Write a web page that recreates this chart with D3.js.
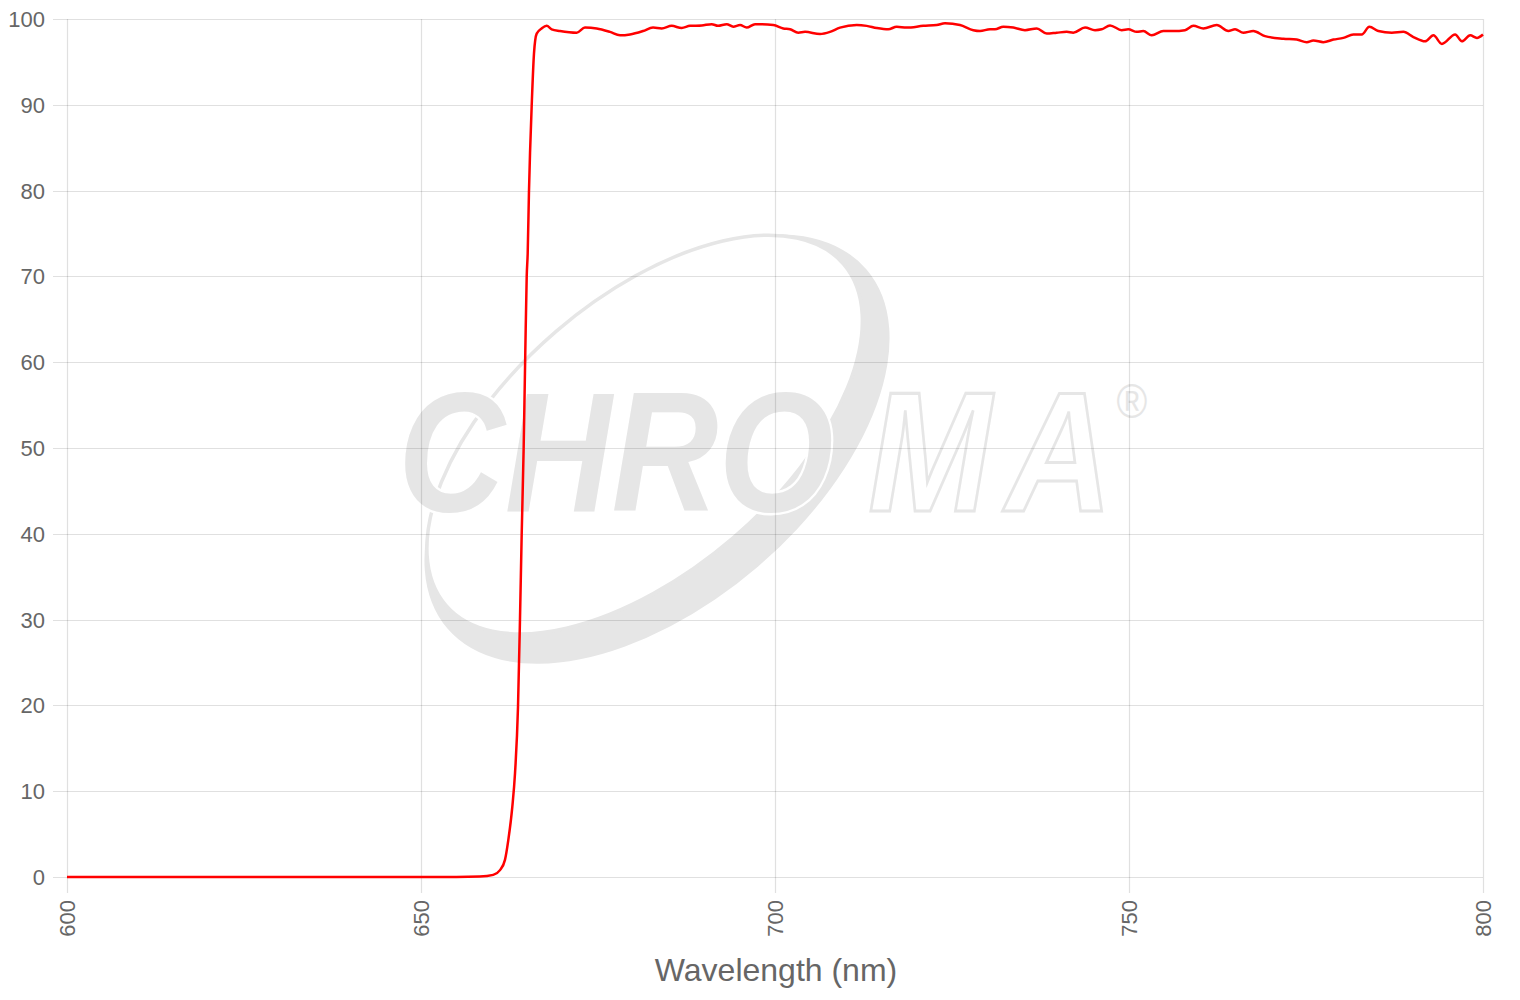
<!DOCTYPE html>
<html>
<head>
<meta charset="utf-8">
<script src="https://cdn.jsdelivr.net/npm/d3@7"></script>
<style>
  html, body { margin: 0; padding: 0; background: #fff; }
  svg { display: block; font-family: "Liberation Sans", Arial, Helvetica, sans-serif; }
</style>
</head>
<body>
<svg id="chart" width="1520" height="1000"></svg>
<script>
// ---- data ----
const wavelengths = [
  600, 630, 655, 658.3, 660.2, 661.16, 661.86, 662.33, 662.9, 663.28, 663.7, 663.98,
  664.22, 664.5, 664.73, 664.93, 665.07, 665.25, 665.4, 665.63, 665.96, 666.34, 667.05,
  667.75, 668.46, 669.63, 671.99, 673.16, 674.82, 676.69, 678.11, 679.52, 681.36, 682.77,
  684.0, 685.41, 686.82, 687.99, 689.65, 691.06, 691.95, 693.18, 694.11, 695.06, 696.0,
  697.18, 699.76, 701.17, 702.12, 703.29, 704.24, 706.36, 707.77, 709.18, 711.54, 712.95,
  714.37, 716.0, 717.19, 718.6, 720.95, 722.84, 724.01, 726.13, 728.01, 728.96, 730.37,
  731.07, 732.25, 733.66, 735.31, 736.97, 738.38, 739.79, 741.2, 742.13, 743.79, 745.2,
  746.14, 747.32, 748.97, 749.9, 751.09, 752.02, 753.21, 754.85, 756.26, 757.91, 759.09,
  760.5, 762.39, 764.03, 764.98, 766.15, 767.56, 769.21, 771.8, 773.69, 775.11, 776.04,
  777.45, 778.87, 780.28, 781.69, 782.88, 783.95, 785.22, 787.12, 788.76, 790.17, 791.82,
  793.0, 794.19, 796.07, 797.02, 798.19, 799.14, 800.0
];
const transmission = [
  0, 0, 0, 0.05, 0.25, 0.8, 2.0, 4.3, 8.2, 12.1, 19.8, 30.0,
  39.9, 50.0, 61.1, 70.0, 72.7, 79.9, 84.4, 89.8, 96.0, 98.3, 98.9,
  99.2, 98.8, 98.6, 98.4, 99.0, 98.9, 98.5, 98.1, 98.2, 98.6, 99.0,
  98.9, 99.2, 98.95, 99.2, 99.25, 99.4, 99.2, 99.4, 99.1, 99.3, 99.0,
  99.4, 99.3, 98.9, 98.8, 98.4, 98.5, 98.25, 98.5, 99.0, 99.3, 99.2,
  98.95, 98.8, 99.1, 99.0, 99.2, 99.3, 99.5, 99.3, 98.7, 98.6, 98.8,
  98.8, 99.1, 99.0, 98.7, 98.9, 98.3, 98.4, 98.5, 98.4, 99.0, 98.7,
  98.8, 99.25, 98.7, 98.8, 98.5, 98.6, 98.1, 98.6, 98.6, 98.7, 99.2,
  98.9, 99.3, 98.6, 98.8, 98.4, 98.6, 98.0, 97.7, 97.6, 97.3, 97.5,
  97.3, 97.6, 97.8, 98.2, 98.2, 99.1, 98.6, 98.4, 98.5, 97.9, 97.4,
  98.1, 97.1, 98.2, 97.4, 98.1, 97.8, 98.2
];
const xTicks = [600, 650, 700, 750, 800];
const yTicks = [0, 10, 20, 30, 40, 50, 60, 70, 80, 90, 100];
const xTitle = "Wavelength (nm)";
const logoFilled = "CHRO";
const logoOutlined = "MA";
const logoMark = "®";

(function () {
// ---- layout ----
const svg = d3.select("#chart");
const pLeft = 67, pRight = 1483, pTop = 19, pBottom = 877;
const x = d3.scaleLinear().domain([600, 800]).range([pLeft, pRight]);
const y = d3.scaleLinear().domain([0, 100]).range([pBottom, pTop]);
const gridColor = "rgba(0,0,0,0.12)";
const textColor = "#666";
const logoGray = "#e6e6e6";

// ---- watermark logo ----
const logo = svg.append("g").attr("class", "logo");
const cx = 657, cy = 449, rot = -40.6;
const eg = logo.append("g").attr("transform", `translate(${cx},${cy}) rotate(${rot})`);
function ellPath(rx, ry, dy) {
  return `M${-rx},${dy} A${rx},${ry} 0 1,0 ${rx},${dy} A${rx},${ry} 0 1,0 ${-rx},${dy} Z`;
}
eg.append("path")
  .attr("d", ellPath(276, 155, 0) + ellPath(262, 136, -19))
  .attr("fill", logoGray).attr("fill-rule", "evenodd");
eg.append("path").attr("d", ellPath(262, 136, -19))
  .attr("fill", "none").attr("stroke", logoGray).attr("stroke-width", 3.5);

const lt = logo.append("text")
  .attr("transform", "translate(398,511) scale(0.87,1)")
  .attr("font-size", 170).attr("font-weight", 700).attr("font-style", "italic");
lt.append("tspan")
  .attr("fill", logoGray).attr("stroke", "#fff").attr("stroke-width", 5)
  .attr("paint-order", "stroke")
  .text(logoFilled);
lt.append("tspan").attr("dx", "40 16")
  .attr("fill", "#fff").attr("stroke", logoGray).attr("stroke-width", 3)
  .text(logoOutlined);
lt.append("tspan").attr("dx", 5).attr("dy", -93)
  .attr("font-size", 48).attr("font-weight", 400).attr("font-style", "normal")
  .attr("fill", logoGray)
  .text(logoMark);

// ---- grid ----
const grid = svg.append("g");
grid.selectAll("line.h").data(yTicks).join("line")
  .attr("x1", pLeft - 14).attr("x2", pRight)
  .attr("y1", d => Math.round(y(d)) + 0.5).attr("y2", d => Math.round(y(d)) + 0.5)
  .attr("stroke", gridColor).attr("stroke-width", 1.2);
grid.selectAll("line.v").data(xTicks).join("line")
  .attr("y1", pTop).attr("y2", pBottom + 16)
  .attr("x1", d => Math.round(x(d)) + 0.5).attr("x2", d => Math.round(x(d)) + 0.5)
  .attr("stroke", gridColor).attr("stroke-width", 1.2);

// ---- axes labels ----
svg.append("g").selectAll("text").data(yTicks).join("text")
  .attr("x", 45).attr("y", d => y(d)).attr("dy", "0.36em")
  .attr("text-anchor", "end").attr("font-size", 22).attr("fill", textColor)
  .text(d => d);
svg.append("g").selectAll("text").data(xTicks).join("text")
  .attr("transform", d => `translate(${x(d)},900) rotate(-90)`)
  .attr("dy", "0.36em")
  .attr("text-anchor", "end").attr("font-size", 22).attr("fill", textColor)
  .text(d => d);
svg.append("text")
  .attr("x", 776).attr("y", 981)
  .attr("text-anchor", "middle").attr("font-size", 32).attr("fill", textColor)
  .text(xTitle);

// ---- line ----
const pts = wavelengths.map((w, i) => [w, transmission[i]]);
const line = d3.line().x(d => x(d[0])).y(d => y(d[1])).curve(d3.curveMonotoneX);
svg.append("path").datum(pts)
  .attr("d", line)
  .attr("fill", "none").attr("stroke", "#ff0000").attr("stroke-width", 2.5)
  .attr("stroke-linejoin", "round");
})();
</script>
</body>
</html>
